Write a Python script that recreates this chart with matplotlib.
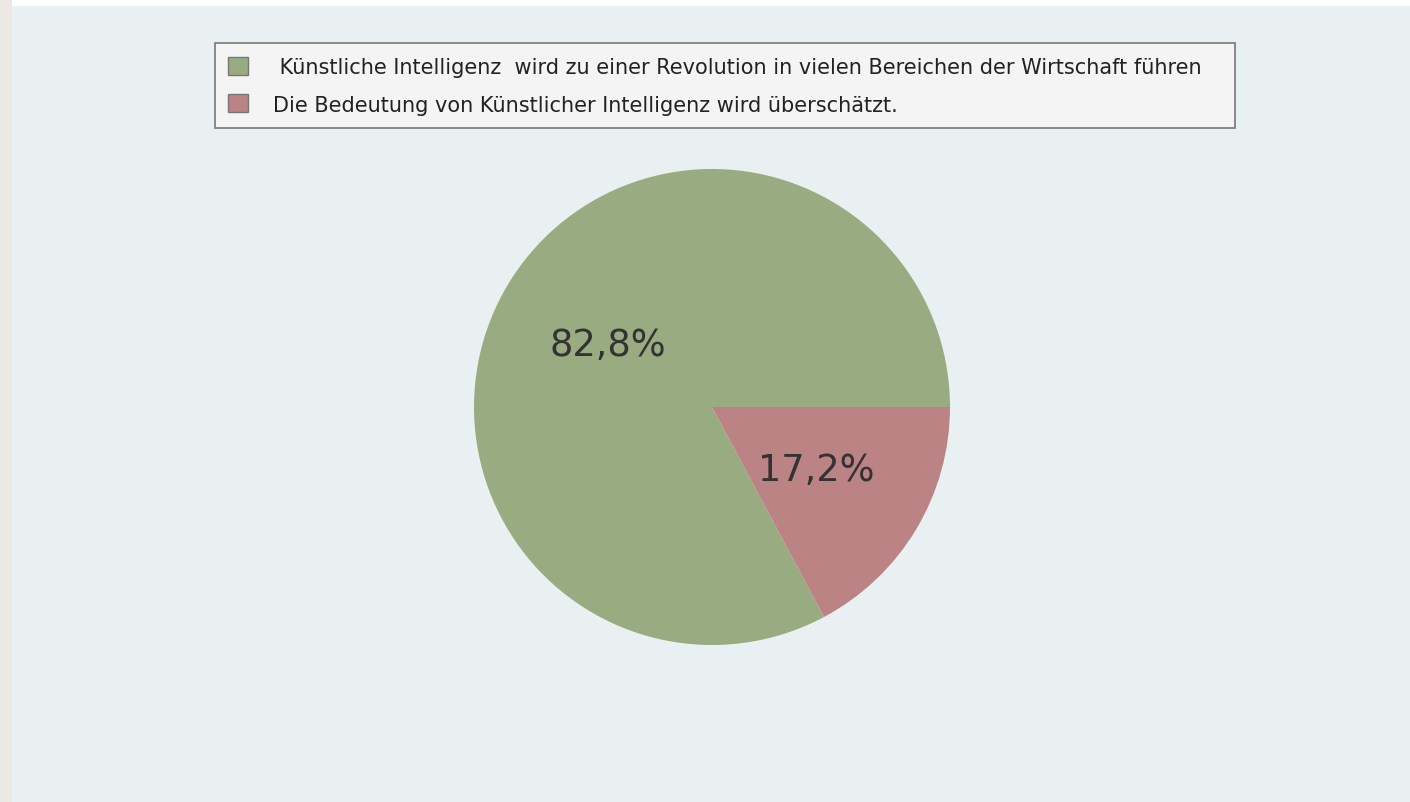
import matplotlib
matplotlib.use("Agg")
import matplotlib.pyplot as plt
from matplotlib.patches import Rectangle

labels = [" Künstliche Intelligenz  wird zu einer Revolution in vielen Bereichen der Wirtschaft führen",
          "Die Bedeutung von Künstlicher Intelligenz wird überschätzt."]
values = [82.8, 17.2]
pct_labels = ["82,8%", "17,2%"]
colors = ["#99ab80", "#bc8384"]

W, H = 1410, 803
fig = plt.figure(figsize=(W / 100, H / 100), dpi=100, facecolor="#ffffff")
fig.patches.append(Rectangle((0, 0), 12 / W, 1, transform=fig.transFigure,
                             facecolor="#ece8e6", edgecolor="none", zorder=-2))
fig.patches.append(Rectangle((12 / W, 0), 1 - 12 / W, 1 - 7 / H, transform=fig.transFigure,
                             facecolor="#e8f0f2", edgecolor="none", zorder=-1))

cx, cy, r = 712, 408, 238
ax = fig.add_axes([(cx - r) / W, (H - cy - r) / H, 2 * r / W, 2 * r / H])
ax.set_facecolor("none")
wedges, texts, autotexts = ax.pie(values, colors=colors, startangle=0, counterclock=True,
                                  autopct="%1.1f%%", pctdistance=0.51,
                                  textprops=dict(fontsize=26.5, color="#333333"))
for t, s in zip(autotexts, pct_labels):
    t.set_text(s)
ax.set_xlim(-1, 1)
ax.set_ylim(-1, 1)
ax.set_aspect("equal")
ax.axis("off")

leg = fig.legend(wedges, [labels[0] + "   ", labels[1]], loc="upper center",
                 bbox_to_anchor=(725 / W, 1 - 44 / H), ncol=1,
                 fontsize=15, frameon=True, fancybox=False, framealpha=1,
                 facecolor="#f4f4f4", edgecolor="#777777",
                 handlelength=0.95, handleheight=0.95, handletextpad=1.2,
                 labelspacing=0.85, borderpad=0.65, borderaxespad=0)
leg.get_frame().set_linewidth(1.2)
for txt in leg.get_texts():
    txt.set_color("#222222")
for h in leg.legend_handles:
    h.set_edgecolor("#777777")
    h.set_linewidth(1.0)

fig.savefig("out.png", dpi=100, facecolor=fig.get_facecolor())
